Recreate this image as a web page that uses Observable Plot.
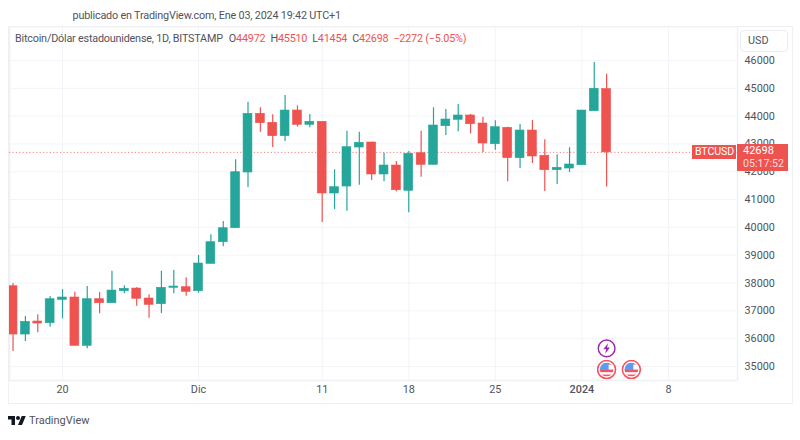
<!DOCTYPE html>
<html><head><meta charset="utf-8">
<script src="https://cdn.jsdelivr.net/npm/d3@7"></script>
<script src="https://cdn.jsdelivr.net/npm/@observablehq/plot@0.6"></script>
<style>
html,body{margin:0;padding:0;background:#fff;width:800px;height:440px;overflow:hidden;font-family:Roboto,sans-serif;color:#3d4048}
#head{height:26px;box-sizing:border-box;padding:9px 0 0 72.5px;font-size:10.8px;letter-spacing:-.18px;line-height:14px;white-space:nowrap;color:#50535c}
#wrap{position:relative;width:800px;height:378px}
#wrap svg{display:block;position:absolute;left:0;top:0}
.box{position:absolute;box-sizing:border-box}
#border{left:8px;top:0;width:785px;height:378px;border:1.5px solid #eef0f4;pointer-events:none}
#legend{left:15px;top:6px;font-size:10.8px;letter-spacing:-.2px;line-height:14px;white-space:nowrap;color:#50535c}
#legend b{font-weight:400;color:#ef5350}
#legend span{margin-left:5px}
#legend span:first-of-type{margin-left:6px}
#usd{left:740px;top:4px;width:48px;height:22px;border:1.5px solid #e8ebf1;border-radius:4px;background:#fff;font-size:10.8px;line-height:19px;padding-left:7px;color:#50535c}
.tag{background:#ef5350;color:#fff;font-size:11px;line-height:13px;white-space:nowrap}
#foot{position:absolute;left:8px;top:413px;display:flex;align-items:center;font-size:11px;color:#50535c;height:15px}
#foot svg{width:18px;height:14px;margin-right:3px;display:block}
</style></head>
<body>
<div id="head">publicado en TradingView.com, Ene 03, 2024 19:42 UTC+1</div>
<div id="wrap"></div>
<div id="foot"><svg viewBox="0 0 36 28"><path fill="#131722" d="M14 22H7V11H0V4h14v18zM28 22h-8l7.5-18h8L28 22z"/><circle fill="#131722" cx="20" cy="8" r="4"/></svg><span>TradingView</span></div>
<script>
const firstDay = "2023-11-16";
const opens = [37886,36150,36617,36556,37397,37480,35743,37419,37275,37706,37803,37444,37239,37829,37850,37706,38690,39468,39971,41974,44084,43760,43279,44202,43688,43796,41219,41470,42872,43052,41902,42225,41316,42667,42250,43638,43868,44023,43735,42991,43581,42488,43483,42574,42056,42117,42236,44177,44972];
const closes = [36150,36606,36545,37419,37480,35743,37419,37275,37731,37793,37433,37217,37829,37875,37685,38702,39468,39971,41984,44084,43746,43279,44202,43688,43796,41219,41445,42883,43041,41902,42225,41337,42646,42250,43663,43879,44023,43710,43016,43602,42488,43483,42549,42056,42143,42261,44202,44983,42698];
const highs = [37983,36797,36858,37516,37767,37670,37875,37660,38425,37900,37830,37577,38425,38450,38188,38990,39734,40212,42430,44501,44300,44048,44742,44371,44059,43796,42071,43458,43422,43060,42667,42369,42729,43458,44300,44238,44418,44060,43962,43832,43600,43699,43843,43149,42610,42862,44202,45928,45510];
const lows = [35539,35898,36211,36412,36714,35743,35636,36894,37275,37613,37167,36736,36905,37613,37527,37634,38690,39302,39971,41434,43422,42872,43088,43602,43581,40176,40643,40582,41517,41686,41639,41280,40525,41805,42250,43304,43437,43365,42693,42775,41639,42117,42297,41291,41542,41974,42236,44177,41454];
const priceTicks = [35000,36000,37000,38000,39000,40000,41000,42000,43000,44000,45000,46000];
const dayTickDates = ["2023-11-20","2023-12-01","2023-12-11","2023-12-18","2023-12-25","2024-01-08"];
const dayTickLabels = ["20","Dic","11","18","25","8"];
const boldTickDates = ["2024-01-01"];
const boldTickLabels = ["2024"];
const flagDays = ["2024-01-03","2024-01-05"];
const flagLevels = [34890,34890];
const boltDays = ["2024-01-03"];
const boltLevels = [35650];
const lastClose = 42698;

const UP="#26a69a", DOWN="#ef5350", GRID="#f2f4f8";
const start = new Date(firstDay+"T00:00Z");
const candles = opens.map((o,i)=>({date:d3.utcDay.offset(start,i),o,c:closes[i],h:highs[i],l:lows[i]}));
const halfBar = 8.6*3600e3;
const color = d=>d.c>=d.o?UP:DOWN;
const toDate = s=>new Date(s+"T00:00Z");
const dayLabel = new Map(dayTickDates.map((s,i)=>[+toDate(s),dayTickLabels[i]]));
const boldLabel = new Map(boldTickDates.map((s,i)=>[+toDate(s),boldTickLabels[i]]));
const allTicks = [...dayTickDates,...boldTickDates].map(toDate);

const flagSvg = `<svg xmlns="http://www.w3.org/2000/svg" viewBox="0 0 20 20"><defs><clipPath id="c"><circle cx="10" cy="10" r="6.8"/></clipPath></defs><circle cx="10" cy="10" r="9" fill="#fff" stroke="#f7525f" stroke-width="1.6"/><g clip-path="url(#c)"><rect width="20" height="20" fill="#fff"/><rect y="3" width="20" height="2" fill="#f7525f"/><rect y="10" width="20" height="2.6" fill="#f7525f"/><rect y="15" width="20" height="2.4" fill="#f7525f"/><rect x="2" y="2" width="10" height="8.5" fill="#5b9cf0"/></g></svg>`;
const boltSvg = `<svg xmlns="http://www.w3.org/2000/svg" viewBox="0 0 20 20"><circle cx="10" cy="10" r="8.8" fill="#fff" stroke="#9c27b0" stroke-width="1.5"/><path d="M11.5 4.5L6.5 11h3l-1 4.5 5-6.5h-3z" fill="#9c27b0"/></svg>`;
const uri = s=>"data:image/svg+xml,"+encodeURIComponent(s);

const chart = Plot.plot({
  width:800, height:378,
  marginTop:0, marginBottom:24, marginLeft:9, marginRight:63,
  style:{fontFamily:"Roboto,sans-serif",fontSize:"10.8px",background:"transparent",color:"#50535c"},
  x:{type:"utc",domain:[new Date("2023-11-15T17:08Z"),new Date("2024-01-13T14:00Z")]},
  y:{domain:[34497,47222]},
  marks:[
    Plot.gridY(priceTicks,{stroke:GRID,strokeOpacity:1}),
    Plot.gridX(allTicks,{stroke:GRID,strokeOpacity:1}),
    Plot.frame({stroke:"#eef0f4",strokeWidth:1.5}),
    Plot.ruleY([lastClose],{stroke:DOWN,strokeDasharray:"1.2,2.2",strokeOpacity:.75,strokeWidth:1}),
    Plot.ruleX(candles,{x:"date",y1:"l",y2:"h",stroke:color,strokeWidth:1.2,clip:true}),
    Plot.rect(candles,{x1:d=>new Date(+d.date-halfBar),x2:d=>new Date(+d.date+halfBar),y1:"o",y2:"c",fill:color,stroke:color,strokeWidth:.6,clip:true}),
    Plot.image(flagDays.map((d,i)=>({d:toDate(d),v:flagLevels[i]})),{x:"d",y:"v",width:20,height:20,src:()=>uri(flagSvg)}),
    Plot.image(boltDays.map((d,i)=>({d:toDate(d),v:boltLevels[i]})),{x:"d",y:"v",width:19,height:19,src:()=>uri(boltSvg)}),
    Plot.axisY(priceTicks,{anchor:"right",tickSize:0,tickPadding:7,tickFormat:d=>String(d),label:null,fill:"#50535c"}),
    Plot.axisX(dayTickDates.map(toDate),{anchor:"bottom",tickSize:0,tickPadding:5,tickFormat:d=>dayLabel.get(+d),label:null,fill:"#50535c"}),
    Plot.axisX(boldTickDates.map(toDate),{anchor:"bottom",tickSize:0,tickPadding:5,tickFormat:d=>boldLabel.get(+d),label:null,fill:"#50535c",fontWeight:500})
  ]
});
const wrap = document.getElementById("wrap");
wrap.appendChild(chart);
const yPos = chart.scale("y").apply(lastClose);
wrap.insertAdjacentHTML("beforeend",`
<div class="box" id="border"></div>
<div class="box" id="legend">Bitcoin/Dólar estadounidense, 1D, BITSTAMP<span>O<b>44972</b></span><span>H<b>45510</b></span><span>L<b>41454</b></span><span>C<b>42698</b></span><span><b>−2272 (−5.05%)</b></span></div>
<div class="box" id="usd">USD</div>
<div class="box tag" style="left:692px;top:${yPos-7}px;width:44px;height:14px;padding-left:3px;font-size:10.6px;line-height:14px;letter-spacing:-.1px">BTCUSD</div>
<div class="box tag" style="left:737px;top:${yPos-7.5}px;width:51px;height:27px;padding:0 0 0 6px;line-height:13px">42698<br><span style="color:#fbdcdb;font-size:10.6px">05:17:52</span></div>
`);
</script>
</body></html>
